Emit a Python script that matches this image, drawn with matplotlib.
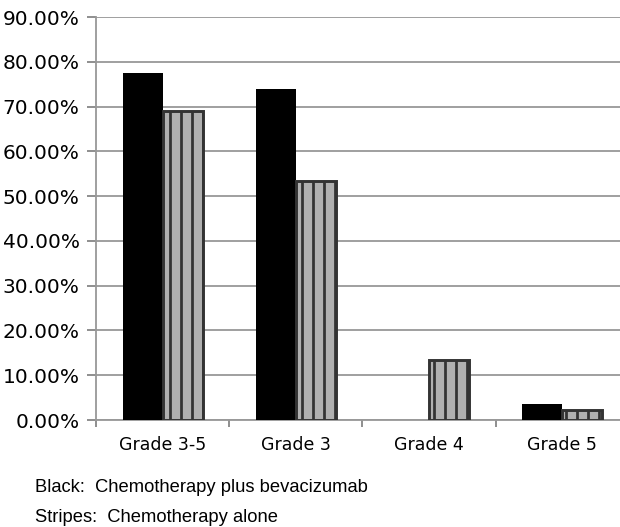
import matplotlib
matplotlib.use("Agg")
import matplotlib.pyplot as plt
from matplotlib.ticker import FuncFormatter, FixedLocator
import numpy as np

categories = ["Grade 3-5", "Grade 3", "Grade 4", "Grade 5"]
chemo_bev = [77.5, 74.0, 0.0, 3.6]      # Chemotherapy plus bevacizumab (%)
chemo_alone = [68.9, 53.3, 13.3, 2.2]   # Chemotherapy alone (%)
y_ticks = [0, 10, 20, 30, 40, 50, 60, 70, 80, 90]

DPI = 132
plt.rcParams["hatch.linewidth"] = 1.5
plt.rcParams["hatch.color"] = "#333333"

fig = plt.figure(figsize=(620 / DPI, 527 / DPI), dpi=DPI)
ax = fig.add_axes([96 / 620, 1 - 420 / 527, 533 / 620, 403 / 527])

x = np.arange(len(categories))
w = 0.3
ax.bar(x - w / 2, chemo_bev, width=w, color="black", linewidth=0, zorder=3)
ax.bar(x + w / 2, chemo_alone, width=w, color="#b0b0b0", edgecolor="#333333",
       linewidth=1.6, hatch="||", zorder=3)

ax.set_xlim(-0.5, len(categories) - 0.5)
ax.set_ylim(0, 90)
ax.yaxis.set_major_locator(FixedLocator(y_ticks))
ax.yaxis.set_major_formatter(FuncFormatter(lambda v, p: f"{v:.2f}%"))
ax.grid(axis="y", color="#999999", linewidth=1.0, zorder=0)

ax.set_xticks(x)
ax.set_xticklabels(categories, fontsize=9.5, family="DejaVu Sans")
ax.set_xticks(np.arange(len(categories) + 1) - 0.5, minor=True)
ax.tick_params(axis="x", which="major", length=0, pad=9)
ax.tick_params(axis="x", which="minor", length=4, color="#888888", width=1)
ax.tick_params(axis="y", length=5, color="#888888", width=1, labelsize=11, pad=4)

for s in ["top", "right"]:
    ax.spines[s].set_visible(False)
ax.spines["left"].set_color("#999999")
ax.spines["bottom"].set_color("#999999")
ax.spines["left"].set_linewidth(1.0)
ax.spines["bottom"].set_linewidth(1.0)

fig.text(35 / 620, 1 - 487 / 527, "Black:  Chemotherapy plus bevacizumab",
         family="Liberation Sans", fontsize=10, va="center", ha="left")
fig.text(35 / 620, 1 - 518 / 527, "Stripes:  Chemotherapy alone",
         family="Liberation Sans", fontsize=10, va="center", ha="left")

fig.savefig("out.png", dpi=DPI)
